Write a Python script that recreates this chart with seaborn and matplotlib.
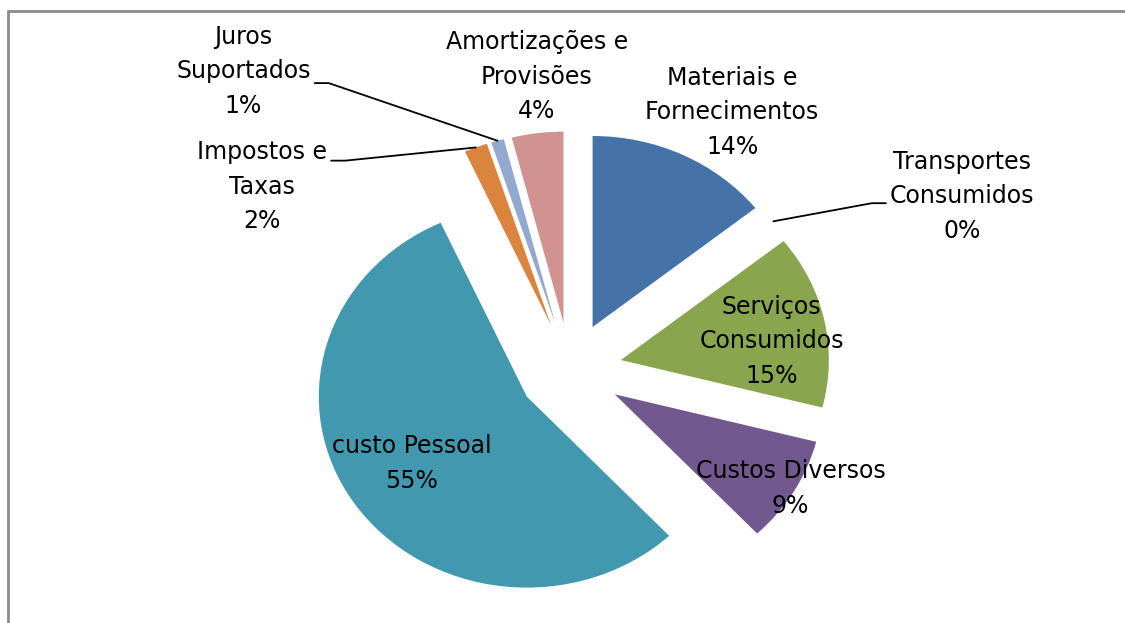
import numpy as np
import matplotlib
matplotlib.use("Agg")
import matplotlib.pyplot as plt
import seaborn as sns

# Dados
categories = ["Materiais e\nFornecimentos", "Transportes\nConsumidos", "Serviços\nConsumidos",
              "Custos Diversos", "custo Pessoal", "Impostos e\nTaxas", "Juros\nSuportados",
              "Amortizações e\nProvisões"]
values = [14.3, 0.0, 14.7, 9.0, 55.2, 1.8, 1.0, 4.0]
colors = ["#4572A7", "#AA4643", "#89A54E", "#71588F", "#4198AF", "#DB843D", "#93A9CF", "#D19392"]

# posição dos rótulos (em raios do gráfico) e linhas de chamada
label_pos = [(0.78, 1.35), (1.885, 0.91), (0.97, 0.15), (1.06, -0.62),
             (-0.76, -0.49), (-1.48, 0.96), (-1.57, 1.565), (-0.16, 1.535)]
leaders = {1: 7, 5: -26, 6: 12}   # índice -> deslocamento vertical (px, para baixo)

W, H = 1125, 623
cx, cy = 570, 370       # centro da pizza (px)
rx, ry = 208, 191       # raio horizontal / vertical (px)

sns.set_theme(style="white")
plt.rcParams['font.family'] = ['DejaVu Sans']

fig = plt.figure(figsize=(W / 100, H / 100), dpi=100)
ax = fig.add_axes([0, 0, 1, 1])

palette = sns.color_palette(colors)
wedges, _ = ax.pie(values, explode=[0.25] * len(values), colors=palette,
                   startangle=90, counterclock=False, wedgeprops=dict(linewidth=0))
ax.set_aspect('auto')
ax.set_xlim(-cx / rx, (W - cx) / rx)
ax.set_ylim(-(H - cy) / ry, cy / ry)
ax.axis('off')

total = sum(values)
texts = []
for cat, v, (lx, ly) in zip(categories, values, label_pos):
    t = ax.text(lx, ly, f"{cat}\n{v / total * 100:.0f}%", ha='center', va='center',
                fontsize=17, linespacing=1.55, color='black')
    texts.append(t)

# linhas de chamada
fig.canvas.draw()
renderer = fig.canvas.get_renderer()
inv = ax.transData.inverted()
for i, dy in leaders.items():
    w = wedges[i]
    mid = np.deg2rad((w.theta1 + w.theta2) / 2)
    tx, ty = ax.transData.transform((w.center[0] + w.r * np.cos(mid),
                                     w.center[1] + w.r * np.sin(mid)))
    bb = texts[i].get_window_extent(renderer)
    yy = (bb.y0 + bb.y1) / 2 - dy
    if tx > bb.x1:
        x0, x1 = bb.x1 + 4, bb.x1 + 18
    else:
        x0, x1 = bb.x0 - 4, bb.x0 - 18
    pts = inv.transform([(x0, yy), (x1, yy), (tx, ty)])
    ax.plot(pts[:, 0], pts[:, 1], color='black', lw=1.3, clip_on=False)

# moldura (só esquerda e topo visíveis)
fig.add_artist(plt.Line2D([7.5 / W, 7.5 / W], [0, 1 - 10.5 / H], color='#8c8c8c', lw=2,
                          transform=fig.transFigure))
fig.add_artist(plt.Line2D([7.5 / W, 1], [1 - 10.5 / H, 1 - 10.5 / H], color='#8c8c8c', lw=2,
                          transform=fig.transFigure))

plt.savefig("out.png", dpi=100)
